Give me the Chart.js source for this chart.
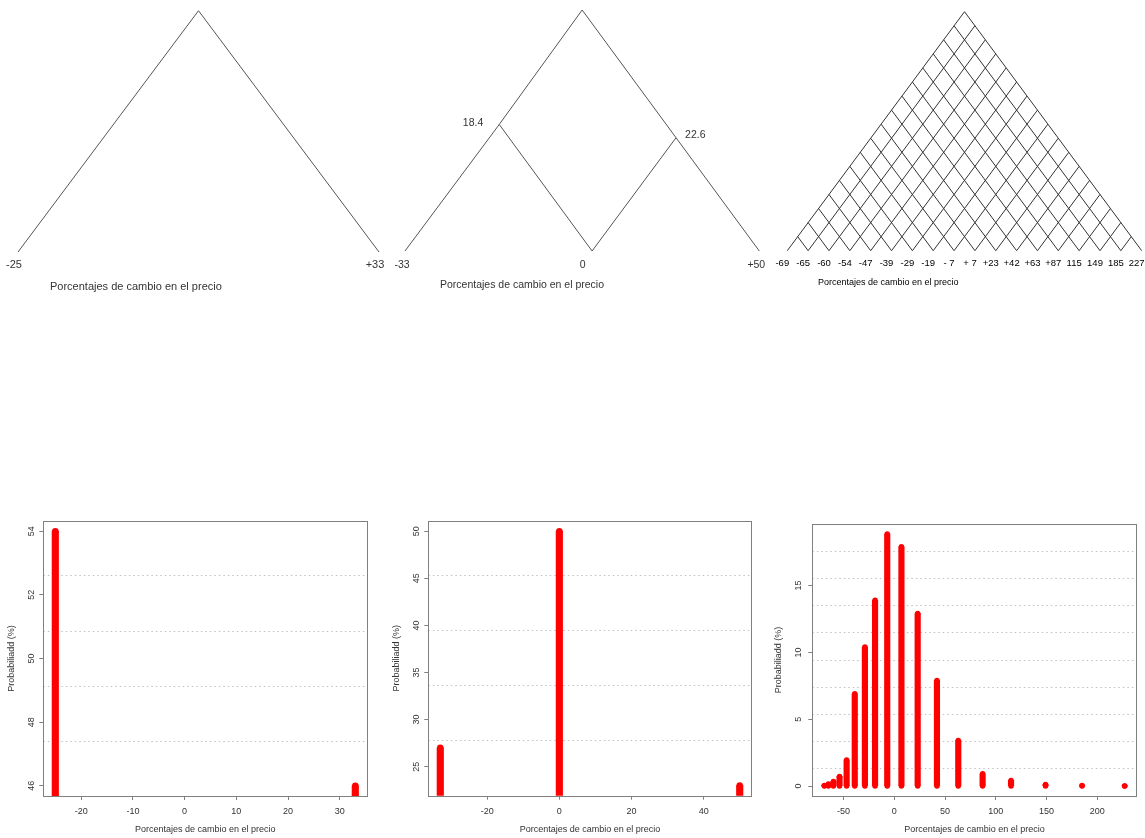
<!DOCTYPE html>
<html>
<head>
<meta charset="utf-8">
<script src="https://cdn.jsdelivr.net/npm/chart.js@4.4.0/dist/chart.umd.min.js"></script>
<style>
  body { margin: 0; background: #fff; }
  #page { position: relative; width: 1145px; height: 838px; overflow: hidden; }
  canvas { position: absolute; }
  .cap { position: absolute; font-family: 'Liberation Sans', Arial, sans-serif; color: #333; white-space: nowrap; }
</style>
</head>
<body>
<div id="page">
  <canvas id="t1" width="400" height="300" style="left:0;top:0"></canvas>
  <canvas id="t2" width="385" height="300" style="left:385px;top:0"></canvas>
  <canvas id="t3" width="375" height="300" style="left:770px;top:0"></canvas>
  <canvas id="b1" width="385" height="333" style="left:0;top:505px"></canvas>
  <canvas id="b2" width="380" height="333" style="left:385px;top:505px"></canvas>
  <canvas id="b3" width="380" height="333" style="left:765px;top:505px"></canvas>
  <div class="cap" style="left:50px;top:281px;font-size:11px;line-height:11px">Porcentajes de cambio en el precio</div>
  <div class="cap" style="left:440px;top:279px;font-size:10.5px;line-height:11px">Porcentajes de cambio en el precio</div>
  <div class="cap" style="left:818px;top:277px;font-size:9px;line-height:10px;color:#000">Porcentajes de cambio en el precio</div>
</div>
<script>
// arbol de 1 periodo
const tree1Labels = ['-25', '+33'];
const tree1Ticks = [0, 1];

// arbol de 2 periodos (nodos: raiz, baja, sube, 3 hojas)
const tree2Labels = ['-33', '0', '+50'];
const tree2Ticks = [0, 51, 100];
const tree2NodeX = [50, 26.6, 76.5, 0, 52.8, 100];
const tree2NodeY = [0, 0.95, 1.06, 2, 2, 2];
const tree2Edges = [[0, 1], [1, 3], [1, 4], [0, 2], [2, 5], [2, 4]];
const tree2Steps = ['18.4', '22.6'];

// arbol de 17 periodos
const tree3Labels = ['-69', '-65', '-60', '-54', '-47', '-39', '-29', '-19', '- 7', '+ 7',
  '+23', '+42', '+63', '+87', '115', '149', '185', '227'];

// distribuciones
const cambio1 = [-25, 33];
const prob1 = [54, 46];
const cambio2 = [-33, 0, 50];
const prob2 = [27, 50, 23];
const cambio3 = [-69, -65, -60, -54, -47, -39, -29, -19, -7, 7, 23, 42, 63, 87, 115, 149, 185, 227];
const prob3 = [0.05, 0.15, 0.35, 0.72, 1.95, 6.9, 10.4, 13.9, 18.85, 17.9, 12.9, 7.9, 3.4, 0.92, 0.42, 0.12, 0.04, 0.01];

const sans = "'Liberation Sans', Arial, sans-serif";

function lattice(n) {
  const segs = [];
  for (let i = 0; i < n; i++) {
    segs.push([{x: n / 2 - i / 2, y: i}, {x: n - i, y: n}]);
    segs.push([{x: n / 2 + i / 2, y: i}, {x: i, y: n}]);
  }
  return segs;
}

function textPlugin(items, font, color) {
  return {
    id: 'nodeText',
    afterDatasetsDraw(chart) {
      const {ctx, scales: {x, y}} = chart;
      ctx.save();
      ctx.font = font;
      ctx.fillStyle = color;
      ctx.textBaseline = 'middle';
      items.forEach(it => {
        ctx.textAlign = it.align;
        ctx.fillText(it.text, x.getPixelForValue(it.x) + it.dx, y.getPixelForValue(it.y) + it.dy);
      });
      ctx.restore();
    }
  };
}

function treeChart(id, segs, o) {
  new Chart(document.getElementById(id), {
    type: 'scatter',
    data: {
      datasets: segs.map(s => ({
        data: s, showLine: true, borderColor: o.color, borderWidth: 1,
        pointRadius: 0, clip: false
      }))
    },
    options: {
      responsive: false, animation: false, devicePixelRatio: 1, events: [],
      layout: { padding: o.pad },
      plugins: { legend: { display: false }, tooltip: { enabled: false } },
      scales: {
        x: {
          type: 'linear', min: 0, max: o.xmax,
          grid: { display: false, drawTicks: false }, border: { display: false },
          afterBuildTicks: s => { s.ticks = o.ticks.map(v => ({ value: v })); },
          afterFit: s => { s.height = 30; s.paddingLeft = 0; s.paddingRight = 0; },
          ticks: {
            autoSkip: false, minRotation: 0, maxRotation: 0, padding: o.tickPad,
            labelOffset: o.shift, color: o.textColor, font: o.font,
            callback: (v, i) => o.labels[i]
          }
        },
        y: { display: false, min: 0, max: o.levels, reverse: true }
      }
    },
    plugins: [textPlugin(o.notes || [], o.noteFont || '11px ' + sans, o.textColor)]
  });
}

// rango de R: 4% a cada lado
function rRange(v) {
  const lo = Math.min(...v), hi = Math.max(...v), d = (hi - lo) * 0.04;
  return [lo - d, hi + d];
}

const boxPlugin = {
  id: 'box',
  afterDraw(chart) {
    const {ctx, chartArea: a} = chart;
    ctx.save();
    ctx.strokeStyle = '#808080';
    ctx.lineWidth = 1;
    ctx.strokeRect(Math.round(a.left) + 0.5, Math.round(a.top) + 0.5,
      Math.round(a.right - a.left), Math.round(a.bottom - a.top));
    ctx.restore();
  }
};

function probChart(id, xs, ys, o) {
  const [xmin, xmax] = rRange(xs);
  const [ymin, ymax] = rRange(ys);
  const pts = xs.map((x, i) => ({ x, y: ys[i] }));
  const base = xs.map(x => ({ x, y: 0 }));
  const tickFont = { family: sans, size: 9 };
  new Chart(document.getElementById(id), {
    type: 'bar',
    data: {
      datasets: [
        { type: 'bar', data: pts, backgroundColor: '#ff0000', barThickness: o.bar, clip: 0 },
        { type: 'scatter', data: pts, pointRadius: o.bar / 2, pointBackgroundColor: '#ff0000', pointBorderWidth: 0, clip: 0 },
        { type: 'scatter', data: base, pointRadius: o.bar / 2, pointBackgroundColor: '#ff0000', pointBorderWidth: 0, clip: 0 }
      ]
    },
    options: {
      responsive: false, animation: false, devicePixelRatio: 1, events: [],
      layout: { padding: { left: 0, top: o.top, right: o.right, bottom: 0 } },
      plugins: { legend: { display: false }, tooltip: { enabled: false } },
      scales: {
        x: {
          type: 'linear', min: xmin, max: xmax, offset: false,
          grid: { display: true, offset: false, drawOnChartArea: false, drawTicks: true, tickLength: 4, color: '#808080' },
          border: { display: false },
          afterFit: s => { s.height = o.xh; s.paddingLeft = 0; s.paddingRight = 0; },
          ticks: { stepSize: o.xstep, includeBounds: false, autoSkip: false, maxRotation: 0, padding: 6.3, color: '#333', font: tickFont },
          title: { display: true, text: 'Porcentajes de cambio en el precio', color: '#333', font: tickFont, padding: { top: 0, bottom: 2.6 } }
        },
        y: {
          min: ymin, max: ymax,
          grid: { display: true, drawOnChartArea: false, drawTicks: true, tickLength: 4, color: '#808080' },
          border: { display: false },
          afterFit: s => { s.width = o.yw; s.paddingTop = 0; s.paddingBottom = 0; },
          ticks: { stepSize: o.ystep, includeBounds: false, autoSkip: false, minRotation: 90, maxRotation: 90, crossAlign: 'center', padding: o.ypad, color: '#333', font: tickFont },
          title: { display: true, text: 'Probabiliadd (%)', color: '#333', font: tickFont, padding: { top: o.ytp, bottom: 0 } }
        },
        g: {
          type: 'linear', position: 'right', min: 0, max: o.grid,
          grid: { drawTicks: false, color: c => (c.tick.value === 0 || c.tick.value === o.grid) ? 'rgba(0,0,0,0)' : '#c0c0c0' },
          border: { display: false, dash: [1.5, 3] },
          afterFit: s => { s.width = 0; s.paddingTop = 0; s.paddingBottom = 0; },
          ticks: { display: false, stepSize: 1, includeBounds: false }
        }
      }
    },
    plugins: [boxPlugin]
  });
}

treeChart('t1', lattice(1), {
  xmax: 1, levels: 1, ticks: tree1Ticks, labels: tree1Labels,
  pad: { left: 18, right: 21, top: 10.7, bottom: 18 },
  color: '#555', textColor: '#333', font: { family: sans, size: 11 }, tickPad: 6.4, shift: -4
});

treeChart('t2', tree2Edges.map(([a, b]) => [
  { x: tree2NodeX[a], y: tree2NodeY[a] }, { x: tree2NodeX[b], y: tree2NodeY[b] }
]), {
  xmax: 100, levels: 2, ticks: tree2Ticks, labels: tree2Labels,
  pad: { left: 20, right: 10.7, top: 10, bottom: 19 },
  color: '#555', textColor: '#333', font: { family: sans, size: 10.5 }, tickPad: 7.7, shift: -3,
  noteFont: '10.5px ' + sans,
  notes: [
    { x: tree2NodeX[1], y: tree2NodeY[1], text: tree2Steps[0], dx: -16, dy: -1.5, align: 'right' },
    { x: tree2NodeX[2], y: tree2NodeY[2], text: tree2Steps[1], dx: 9, dy: -3, align: 'left' }
  ]
});

treeChart('t3', lattice(17), {
  xmax: 17, levels: 17, ticks: tree3Labels.map((_, i) => i), labels: tree3Labels,
  pad: { left: 17.3, right: 3.3, top: 11.7, bottom: 19.3 },
  color: '#333', textColor: '#000', font: { family: sans, size: 9.5 }, tickPad: 7.3, shift: -5
});

probChart('b1', cambio1, prob1, { bar: 6.5, top: 16, right: 17.7, xh: 42, yw: 43.3, xstep: 10, ystep: 2, ypad: 2.3, ytp: 6.3, grid: 5 });
probChart('b2', cambio2, prob2, { bar: 6.5, top: 16, right: 13.3, xh: 42.3, yw: 43.3, xstep: 20, ystep: 5, ypad: 2.3, ytp: 6.3, grid: 5 });
probChart('b3', cambio3, prob3, { bar: 5.5, top: 19, right: 8.3, xh: 42, yw: 47.3, xstep: 50, ystep: 5, ypad: 5, ytp: 7.9, grid: 10 });
</script>
</body>
</html>
